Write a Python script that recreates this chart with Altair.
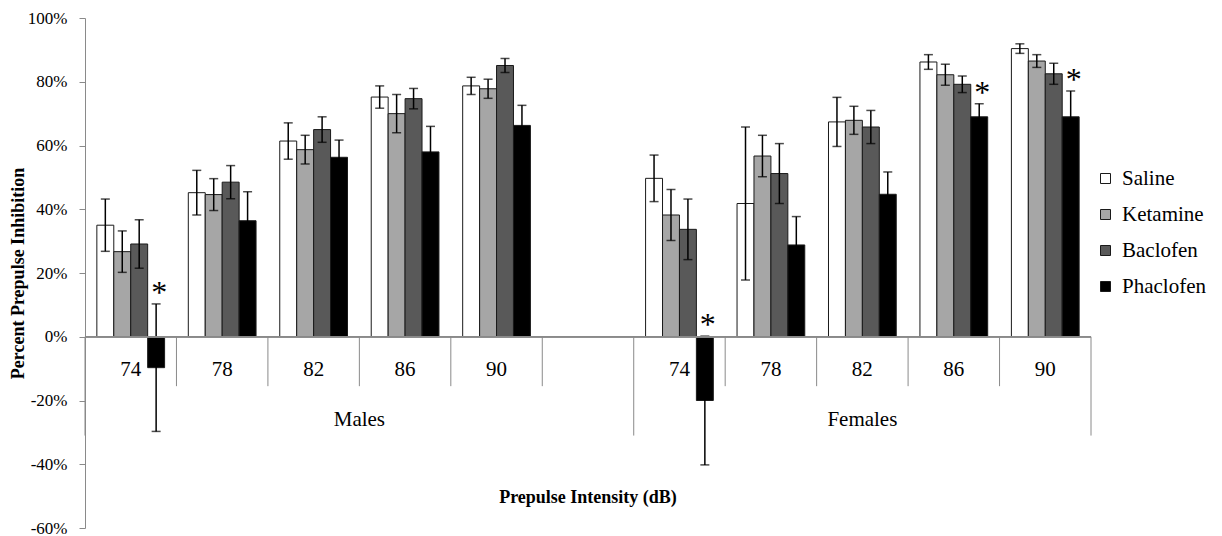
import altair as alt
import pandas as pd

# ---------------- data ----------------
groups = ["Males", "Females"]
intensities = ["74", "78", "82", "86", "90"]
treatments = ["Saline", "Ketamine", "Baclofen", "Phaclofen"]
fill_colors = ["#FFFFFF", "#A6A6A6", "#595959", "#000000"]

males_mean = {
    "Saline":    [35.0, 45.2, 61.4, 75.2, 78.7],
    "Ketamine":  [26.7, 44.6, 58.7, 70.0, 77.8],
    "Baclofen":  [29.1, 48.5, 65.0, 74.7, 85.1],
    "Phaclofen": [-9.7, 36.4, 56.3, 58.0, 66.3],
}
males_err = {
    "Saline":    [8.2, 7.0, 5.7, 3.5, 2.7],
    "Ketamine":  [6.5, 5.0, 4.5, 6.0, 3.0],
    "Baclofen":  [7.6, 5.2, 4.0, 3.2, 2.2],
    "Phaclofen": [20.0, 9.1, 5.4, 8.0, 6.3],
}
females_mean = {
    "Saline":    [49.7, 41.8, 67.4, 86.2, 90.4],
    "Ketamine":  [38.2, 56.7, 67.9, 82.2, 86.5],
    "Baclofen":  [33.7, 51.2, 65.8, 79.2, 82.5],
    "Phaclofen": [-20.0, 28.8, 44.7, 69.0, 69.0],
}
females_err = {
    "Saline":    [7.3, 24.0, 7.7, 2.3, 1.5],
    "Ketamine":  [8.0, 6.5, 4.4, 3.3, 2.0],
    "Baclofen":  [9.5, 9.4, 5.2, 2.6, 3.3],
    "Phaclofen": [20.2, 8.9, 7.0, 4.1, 8.1],
}
significant = [("Males", "74", "Phaclofen"), ("Females", "74", "Phaclofen"),
               ("Females", "86", "Phaclofen"), ("Females", "90", "Phaclofen")]

y_ticks = [-0.6, -0.4, -0.2, 0.0, 0.2, 0.4, 0.6, 0.8, 1.0]

# category keys along the axis (an empty slot separates the two groups)
cats = ["M" + i for i in intensities] + ["M_"] + ["F" + i for i in intensities]
cat_labels = intensities + [""] + intensities

rows = []
for g, means, errs in [("Males", males_mean, males_err), ("Females", females_mean, females_err)]:
    for t in treatments:
        for k, inten in enumerate(intensities):
            m = means[t][k] / 100.0
            e = errs[t][k] / 100.0
            rows.append({
                "cat": g[0] + inten, "group": g, "intensity": inten, "treatment": t,
                "value": m, "lo": m - e, "hi": m + e,
                "sig": (g, inten, t) in significant,
            })
df = pd.DataFrame(rows)
label_df = pd.DataFrame({"cat": cats, "label": cat_labels})

# ---------------- style ----------------
FONT = "Liberation Serif"
W, H = 1006, 510
GRAY = "#8a8a8a"
YTITLE = "Percent Prepulse Inhibition"

xscale = alt.Scale(domain=cats, paddingInner=0, paddingOuter=0)
yscale = alt.Scale(domain=[-0.6, 1.0], nice=False, zero=False)
xoff = alt.XOffset("treatment:N", sort=treatments,
                   scale=alt.Scale(domain=treatments, paddingInner=0, paddingOuter=0.7))
X = alt.X("cat:N", scale=xscale, axis=None, sort=cats)

YAX = alt.Axis(
    values=y_ticks,
    labelExpr="(datum.value < -0.0001 ? '-' : '') + format(abs(datum.value), '.0%')",
    labelFont=FONT, labelFontSize=17, labelColor="#000000", labelPadding=12,
    tickSize=6, tickColor=GRAY, domainColor=GRAY, grid=False,
    title=YTITLE, titleFont=FONT, titleFontSize=18,
    titleFontWeight="bold", titleColor="#000000", titleAngle=-90,
    titleX=-67, titleY=H / 2, titleAlign="center", titleBaseline="middle",
)


def Y(field):
    return alt.Y(field, scale=yscale, axis=YAX, title=YTITLE)


def YD(v):
    return alt.datum(v, scale=yscale, axis=YAX, title=YTITLE)


bars = alt.Chart(df).mark_bar(stroke="#1a1a1a", strokeWidth=1).encode(
    x=X,
    xOffset=xoff,
    y=Y("value:Q"),
    fill=alt.Fill("treatment:N", sort=treatments,
                  scale=alt.Scale(domain=treatments, range=fill_colors),
                  legend=alt.Legend(
                      orient="none", legendX=1010, legendY=150, title=None,
                      symbolType="square", symbolSize=100, symbolStrokeColor="#1a1a1a",
                      symbolStrokeWidth=1, labelFont=FONT, labelFontSize=21,
                      labelColor="#000000", labelOffset=6, rowPadding=14, padding=0,
                  )),
)

err_rules = alt.Chart(df).mark_rule(color="#000000", strokeWidth=1.5).encode(
    x=X, xOffset=xoff,
    y=Y("lo:Q"), y2="hi:Q",
)

caps = alt.Chart(df).transform_fold(["lo", "hi"], as_=["end", "cap"]).mark_tick(
    color="#000000", thickness=1.5, size=9
).encode(
    x=X, xOffset=xoff,
    y=Y("cap:Q"),
)

stars = alt.Chart(df).transform_filter("datum.sig").mark_text(
    text="*", font=FONT, fontSize=32, baseline="alphabetic", dx=3, dy=-1, color="#000000"
).encode(
    x=X, xOffset=xoff,
    y=Y("hi:Q"),
)

zero_line = alt.Chart(label_df).mark_rule(color=GRAY, strokeWidth=1).encode(
    y=YD(0)
)

short_div = alt.Chart(label_df).transform_filter(
    "datum.cat != 'M74' && datum.cat != 'F74'"
).mark_rule(color=GRAY, strokeWidth=1).encode(
    x=alt.X("cat:N", scale=xscale, axis=None, sort=cats, bandPosition=0),
    y=YD(0), y2=alt.datum(-0.155),
)

long_div_start = alt.Chart(label_df).transform_filter(
    "datum.cat == 'M74' || datum.cat == 'F74'"
).mark_rule(color=GRAY, strokeWidth=1).encode(
    x=alt.X("cat:N", scale=xscale, axis=None, sort=cats, bandPosition=0),
    y=YD(0), y2=alt.datum(-0.31),
)
long_div_end = alt.Chart(label_df).transform_filter(
    "datum.cat == 'F90'"
).mark_rule(color=GRAY, strokeWidth=1).encode(
    x=alt.X("cat:N", scale=xscale, axis=None, sort=cats, bandPosition=1),
    y=YD(0), y2=alt.datum(-0.31),
)

cat_text = alt.Chart(label_df).mark_text(
    font=FONT, fontSize=21, baseline="middle", color="#000000"
).encode(x=X, y=alt.value(352), text="label:N")

group_df = pd.DataFrame({"cat": ["M86", "F82"], "label": groups, "pos": [0.0, 0.5]})
males_text = alt.Chart(group_df).transform_filter("datum.pos == 0").mark_text(
    font=FONT, fontSize=21, baseline="middle", color="#000000"
).encode(x=alt.X("cat:N", scale=xscale, axis=None, sort=cats, bandPosition=0),
         y=alt.value(402), text="label:N")
females_text = alt.Chart(group_df).transform_filter("datum.pos > 0").mark_text(
    font=FONT, fontSize=21, baseline="middle", color="#000000"
).encode(x=X, y=alt.value(402), text="label:N")

title_df = pd.DataFrame({"cat": ["M_"], "label": ["Prepulse Intensity (dB)"]})
x_title = alt.Chart(title_df).mark_text(
    font=FONT, fontSize=18, fontWeight="bold", baseline="middle", color="#000000"
).encode(x=X, y=alt.value(480), text="label:N")

chart = alt.layer(
    bars, err_rules, caps, stars, zero_line, short_div, long_div_start, long_div_end,
    cat_text, males_text, females_text, x_title,
).resolve_scale(x="shared", y="shared").properties(
    width=W, height=H,
    padding={"left": 85, "top": 18, "right": 131, "bottom": 8},
    autosize=alt.AutoSizeParams(type="none"),
    background="#ffffff",
).configure_view(stroke=None)

chart.save("out.html", embed_options={"renderer": "svg", "actions": False})
